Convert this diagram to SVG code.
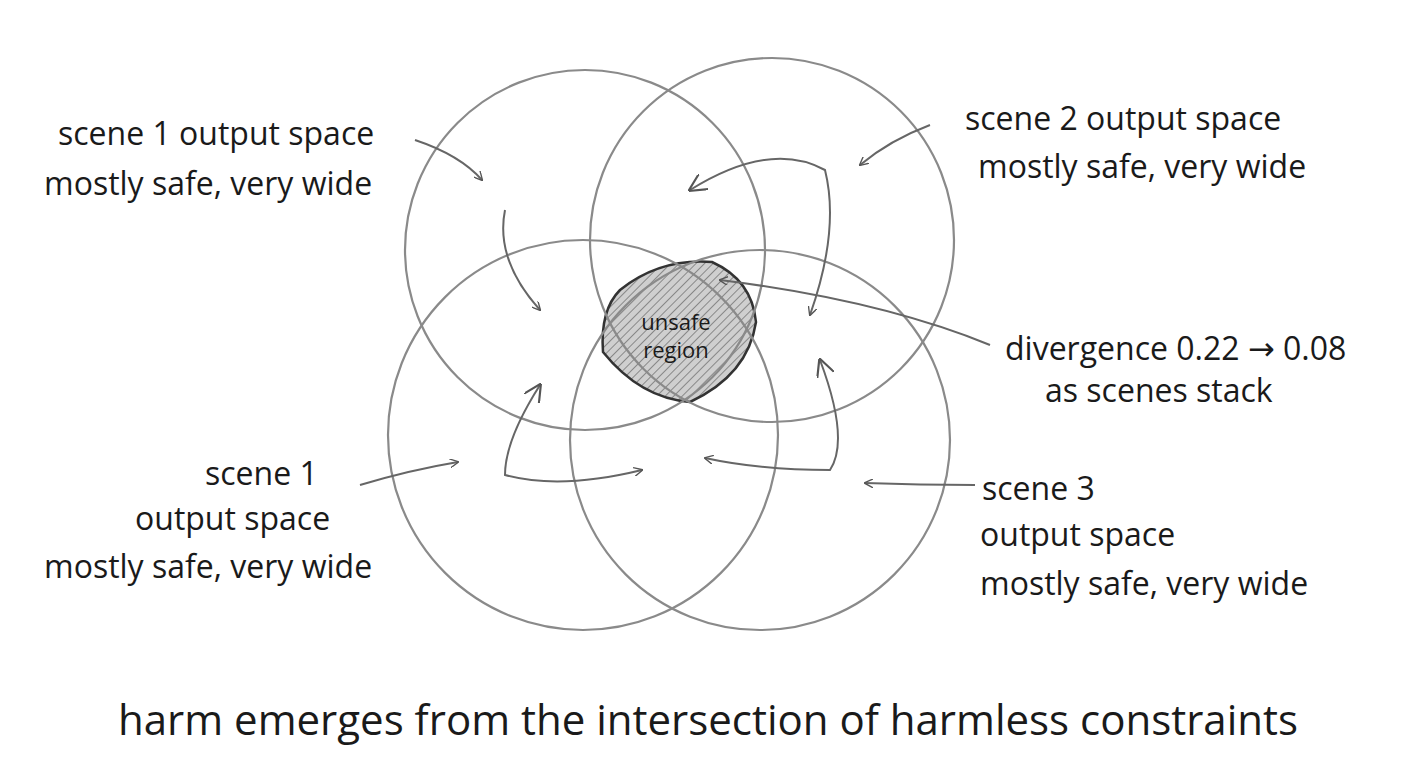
<svg xmlns="http://www.w3.org/2000/svg" width="1408" height="768" viewBox="0 0 1408 768">
<style>
.c{fill:none;stroke:#8a8a8a;stroke-width:2.2}
.a{fill:none;stroke:#666;stroke-width:2;marker-end:url(#h)}
.b{fill:none;stroke:#666;stroke-width:2;marker-end:url(#h);marker-start:url(#hs)}
text{font-family:"Open Sans","DejaVu Sans",sans-serif;fill:#1a1a1a}
.t{font-size:32px}
.s{font-size:22px;text-anchor:middle}
</style>
<defs>
<marker id="h" viewBox="0 0 10 10" refX="9" refY="5" markerWidth="9" markerHeight="9" orient="auto-start-reverse" markerUnits="userSpaceOnUse"><path d="M0,0 L10,5 L0,10" fill="none" stroke="#555" stroke-width="1.5"/></marker>
<marker id="hs" viewBox="0 0 10 10" refX="9" refY="5" markerWidth="18" markerHeight="18" orient="auto-start-reverse" markerUnits="userSpaceOnUse"><path d="M0,0 L10,5 L0,10" fill="none" stroke="#555" stroke-width="1.2"/></marker>
<pattern id="hatch" width="6" height="6" patternUnits="userSpaceOnUse" patternTransform="rotate(45)"><rect width="6" height="6" fill="#cfcfcf"/><line x1="0" y1="0" x2="0" y2="6" stroke="#888" stroke-width="2"/></pattern>
</defs>
<rect width="1408" height="768" fill="#fff"/>
<g id="unsafe">
<path d="M620,290 Q660,258 712,262 Q752,280 756,322 Q748,375 690,402 Q640,398 603,352 Q600,310 620,290 Z" fill="url(#hatch)" stroke="#333" stroke-width="2.5"/>
<text class="s" x="676" y="330">unsafe</text>
<text class="s" x="676" y="358">region</text>
</g>
<g id="circles">
<circle id="c1" class="c" cx="585" cy="250" r="180"/>
<circle id="c2" class="c" cx="772" cy="240" r="182"/>
<circle id="c3" class="c" cx="583" cy="435" r="195"/>
<circle id="c4" class="c" cx="760" cy="440" r="190"/>
</g>
<g id="connectors">
<path class="a" d="M415,140 Q460,155 482,180"/>
<path class="a" d="M505,210 Q495,260 540,310"/>
<path class="a" d="M930,125 Q890,140 860,165"/>
<path class="b" d="M690,190 Q770,140 825,170 Q840,230 810,315"/>
<path class="a" d="M990,345 Q880,300 720,280"/>
<path class="a" d="M360,485 Q410,470 458,462"/>
<path class="b" d="M540,385 Q505,440 505,475 Q560,490 642,470"/>
<path class="b" d="M820,360 Q850,440 830,470 Q760,470 705,458"/>
<path class="a" d="M975,485 Q920,485 865,483"/>
</g>
<g id="labels">
<text class="t" x="58" y="145">scene 1 output space</text>
<text class="t" x="44" y="195">mostly safe, very wide</text>
<text class="t" x="965" y="130">scene 2 output space</text>
<text class="t" x="978" y="178">mostly safe, very wide</text>
<text class="t" x="1005" y="360">divergence 0.22 → 0.08</text>
<text class="t" x="1045" y="402">as scenes stack</text>
<text class="t" x="205" y="485">scene 1</text>
<text class="t" x="135" y="530">output space</text>
<text class="t" x="44" y="578">mostly safe, very wide</text>
<text class="t" x="982" y="500">scene 3</text>
<text class="t" x="980" y="546">output space</text>
<text class="t" x="980" y="595">mostly safe, very wide</text>
<text x="118" y="735" font-size="42">harm emerges from the intersection of harmless constraints</text>
</g>
</svg>
